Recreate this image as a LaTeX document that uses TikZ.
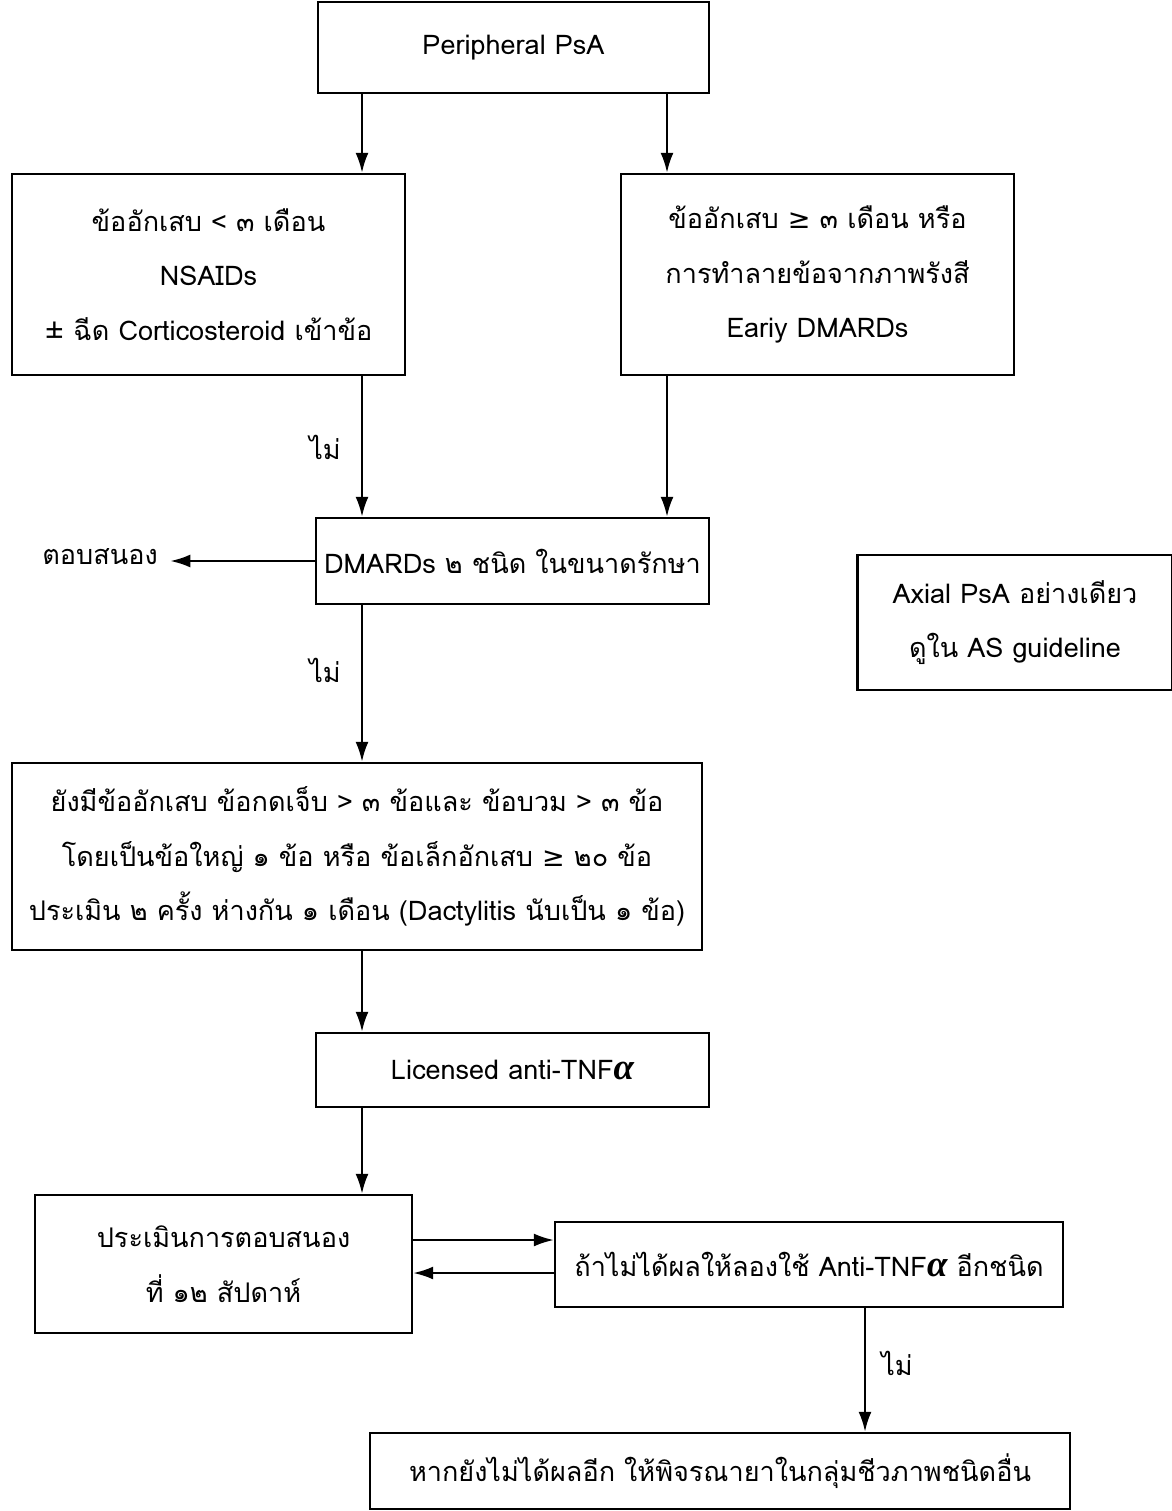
\documentclass[tikz,border=0pt]{standalone}
\usepackage{fontspec}
\setmainfont[Script=Thai]{Loma}
\newfontfamily\symfont{DejaVu Sans}
\newfontfamily\alphafont{Liberation Serif}
\newcommand{\balpha}{{\alphafont\fontsize{21}{21}\selectfont\bfseries\itshape α}}
\usetikzlibrary{arrows.meta}

\begin{document}
\begin{tikzpicture}[
					x=0.02cm, y=-0.02cm,
					box/.style={rectangle,draw,line width=1.4pt,align=center,inner sep=0pt},
					arr/.style={-{Latex[length=4mm,width=2.6mm]},line width=1.3pt},
					font=\fontsize{15.4}{31}\selectfont,
					]
					\useasboundingbox (0,0) rectangle (1172,1511);
					\coordinate (xl) at (362,0);
					\coordinate (xr) at (667,0);
					\coordinate (xb) at (865,0);
					\coordinate (yu) at (0,1240);
					\coordinate (yd) at (0,1273);
					\node [box,minimum width=7.82cm,minimum height=1.82cm] (ppsa) at (513.5,47.5) {Peripheral PsA};
					\node [box,minimum width=7.86cm,minimum height=4.02cm] (early) at (208.5,274.5) {ข้ออักเสบ < ๓ เดือน\\ NSAIDs\\ ± ฉีด Corticosteroid เข้าข้อ};
					\node [box,minimum width=7.86cm,minimum height=4.02cm] (late) at (817.5,274.5) {ข้ออักเสบ {\symfont ≥} ๓ เดือน หรือ\\ การทำลายข้อจากภาพรังสี\\ Eariy DMARDs};
					\node [box,minimum width=7.86cm,minimum height=1.72cm] (dmard) at (512.5,561) {DMARDs ๒ ชนิด ในขนาดรักษา};
					\node [inner sep=0pt,minimum width=2.8cm] (resp) at (100,557) {ตอบสนอง};
					\node [box,minimum width=6.30cm,minimum height=2.70cm] (axial) at (1015,622.5) {Axial PsA อย่างเดียว\\ ดูใน AS guideline};
					\node [box,minimum width=13.80cm,minimum height=3.74cm] (crit) at (357,856.5) {ยังมีข้ออักเสบ ข้อกดเจ็บ > ๓ ข้อและ ข้อบวม > ๓ ข้อ\\ โดยเป็นข้อใหญ่ ๑ ข้อ หรือ ข้อเล็กอักเสบ {\symfont ≥} ๒๐ ข้อ\\ ประเมิน ๒ ครั้ง ห่างกัน ๑ เดือน (Dactylitis นับเป็น ๑ ข้อ)};
					\node [box,minimum width=7.86cm,minimum height=1.48cm] (tnf) at (512.5,1070) {Licensed anti-TNF\balpha};
					\node [box,minimum width=7.54cm,minimum height=2.76cm] (eval) at (223.5,1264) {ประเมินการตอบสนอง\\ ที่ ๑๒ สัปดาห์};
					\node [box,minimum width=10.16cm,minimum height=1.70cm] (switch) at (809,1264.5) {ถ้าไม่ได้ผลให้ลองใช้ Anti-TNF\balpha{} อีกชนิด};
					\node [box,minimum width=14.00cm,minimum height=1.52cm] (other) at (720,1471) {หากยังไม่ได้ผลอีก ให้พิจรณายาในกลุ่มชีวภาพชนิดอื่น};
					\node (no1) at (325,447) {ไม่};
					\node (no2) at (325,670) {ไม่};
					\node (no3) at (897,1363) {ไม่};
					\draw[arr] (ppsa.south -| xl) -- (early.north -| xl);
					\draw[arr] (ppsa.south -| xr) -- (late.north -| xr);
					\draw[arr] (early.south -| xl) -- (dmard.north -| xl);
					\draw[arr] (late.south -| xr) -- (dmard.north -| xr);
					\draw[arr] (dmard.west) -- (resp.east |- dmard.west);
					\draw[arr] (dmard.south -| xl) -- (crit.north -| xl);
					\draw[arr] (crit.south -| xl) -- (tnf.north -| xl);
					\draw[arr] (tnf.south -| xl) -- (eval.north -| xl);
					\draw[arr] (eval.east |- yu) -- (switch.west |- yu);
					\draw[arr] (switch.west |- yd) -- (eval.east |- yd);
					\draw[arr] (switch.south -| xb) -- (other.north -| xb);
				\end{tikzpicture}
\end{document}
